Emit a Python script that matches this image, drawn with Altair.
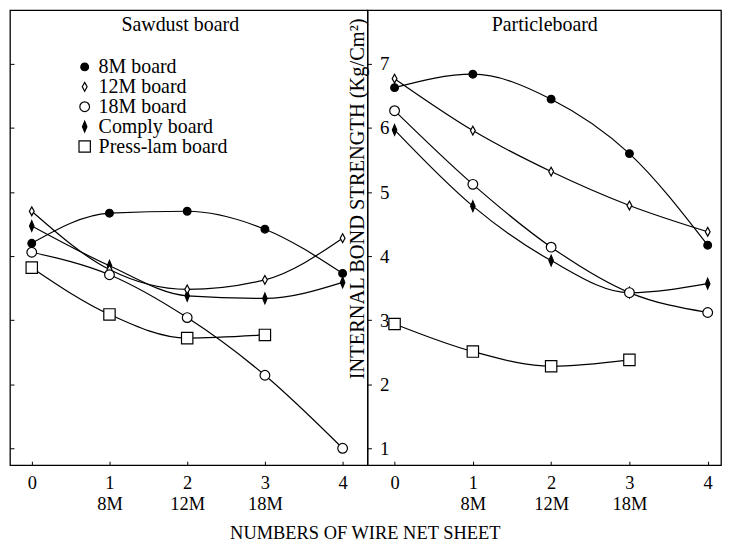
import altair as alt
import pandas as pd

# ---- data ----
x_vals = [0, 1, 2, 3, 4]
series = ["8M board", "12M board", "18M board", "Comply board", "Press-lam board"]
tick_sub = ["", "8M", "12M", "18M", ""]
y_ticks = [1, 2, 3, 4, 5, 6, 7]

saw_8m = [4.20, 4.67, 4.70, 4.42, 3.73]
saw_12m = [4.70, 3.79, 3.48, 3.63, 4.28]
saw_18m = [4.06, 3.71, 3.04, 2.14, 1.00]
saw_comply = [4.47, 3.85, 3.38, 3.34, 3.59]
saw_press = [3.82, 3.09, 2.72, 2.77]

par_8m = [6.63, 6.84, 6.45, 5.60, 4.17]
par_12m = [6.77, 5.96, 5.32, 4.79, 4.38]
par_18m = [6.27, 5.12, 4.14, 3.43, 3.12]
par_comply = [5.97, 4.78, 3.93, 3.43, 3.57]
par_press = [2.94, 2.51, 2.28, 2.38]

panel_names = ["Sawdust board", "Particleboard"]

rows = []
# draw filled markers first, open markers on top
order = ["Comply board", "8M board", "12M board", "18M board", "Press-lam board"]
panel_data = {
    "Sawdust board": {"8M board": saw_8m, "12M board": saw_12m, "18M board": saw_18m,
                      "Comply board": saw_comply, "Press-lam board": saw_press},
    "Particleboard": {"8M board": par_8m, "12M board": par_12m, "18M board": par_18m,
                      "Comply board": par_comply, "Press-lam board": par_press},
}
for p in panel_names:
    for s in order:
        for xv, yv in zip(x_vals, panel_data[p][s]):
            rows.append({"panel": p, "series": s, "x": xv, "y": yv})
df = pd.DataFrame(rows)

SERIF = "Liberation Serif"
thin_open = "M0,-1L0.55,0L0,1L-0.55,0Z"
thin_fill = "M0,-1L0.42,0L0,1L-0.42,0Z"
shape_range = ["circle", thin_open, "circle", thin_fill, "square"]
fill_range = ["black", "white", "white", "black", "white"]
stroke_range = ["black"] * 5
size_range = [60, 130, 45, 130, 34]

label_expr = "".join(
    f"datum.value == {v} ? ['{v}', '{s}'] : " for v, s in zip(x_vals, tick_sub) if s
) + "datum.label"

y_scale = alt.Scale(domain=[0.736, 7.84], nice=False, zero=False)
leg = alt.Legend(title=None)


def panel(name, x_domain, width, y_axis, title_x):
    base = alt.Chart(df[df.panel == name])
    x_enc = alt.X("x:Q", scale=alt.Scale(domain=x_domain, nice=False, zero=False),
                  axis=alt.Axis(values=x_vals, labelExpr=label_expr, offset=-4, tickSize=4,
                                domain=False, grid=False, labelPadding=8, labelFontSize=18.5,
                                labelLineHeight=21, labelFont=SERIF, labelColor="black",
                                tickColor="black", title=None, labelFlush=False))
    y_enc = alt.Y("y:Q", scale=y_scale, axis=y_axis)
    lines = base.mark_line(color="black", strokeWidth=1.2, interpolate="monotone").encode(
        x=x_enc, y=y_enc, detail="series:N")
    pts = base.mark_point(filled=False, strokeWidth=1.2, opacity=1).encode(
        x=x_enc, y=y_enc,
        shape=alt.Shape("series:N", scale=alt.Scale(domain=series, range=shape_range), legend=leg),
        fill=alt.Fill("series:N", scale=alt.Scale(domain=series, range=fill_range), legend=leg),
        stroke=alt.Stroke("series:N", scale=alt.Scale(domain=series, range=stroke_range), legend=leg),
        size=alt.Size("series:N", scale=alt.Scale(domain=series, range=size_range), legend=leg),
    )
    ttl = alt.Chart(pd.DataFrame({"t": [name]})).mark_text(
        font=SERIF, fontSize=20, color="black", baseline="middle", align="center"
    ).encode(text="t:N", x=alt.value(title_x), y=alt.value(15))
    return alt.layer(lines, pts, ttl).properties(width=width, height=457)


left_axis = alt.Axis(values=y_ticks, labels=False, tickSize=4, offset=-4, domain=False,
                     grid=False, title=None, tickColor="black")
right_axis = alt.Axis(values=y_ticks, tickSize=4, offset=-4, domain=False, grid=False,
                      labelAlign="left", labelPadding=-12, labelBaseline="middle",
                      labelFontSize=19, labelFont=SERIF, labelColor="black",
                      tickColor="black",
                      title="INTERNAL BOND STRENGTH (Kg/Cm²)", titleFont=SERIF,
                      titleFontSize=20.5, titleFontWeight="normal", titleColor="black",
                      titleX=-14, titleY=189, titleAngle=270, titleAlign="center",
                      titleBaseline="middle")

left = panel("Sawdust board", [-0.28, 4.32], 359, left_axis, 171)
right = panel("Particleboard", [-0.346, 4.17], 355, right_axis, 178)

chart = alt.hconcat(left, right, spacing=0, bounds="flush").properties(
    padding=0,
    background="white",
    title=alt.TitleParams("NUMBERS OF WIRE NET SHEET", orient="bottom", anchor="middle",
                          offset=11, fontSize=18.5, font=SERIF, fontWeight="normal",
                          color="black"),
).configure(
    font=SERIF
).configure_view(
    stroke="black", strokeWidth=1.3
).configure_legend(
    orient="none", legendX=65, legendY=47, labelFont=SERIF, labelFontSize=20,
    labelColor="black", symbolStrokeWidth=1.2,
    rowPadding=0, labelOffset=4, padding=0,
)

chart.save("out.html", embed_options={"renderer": "svg", "actions": False})
